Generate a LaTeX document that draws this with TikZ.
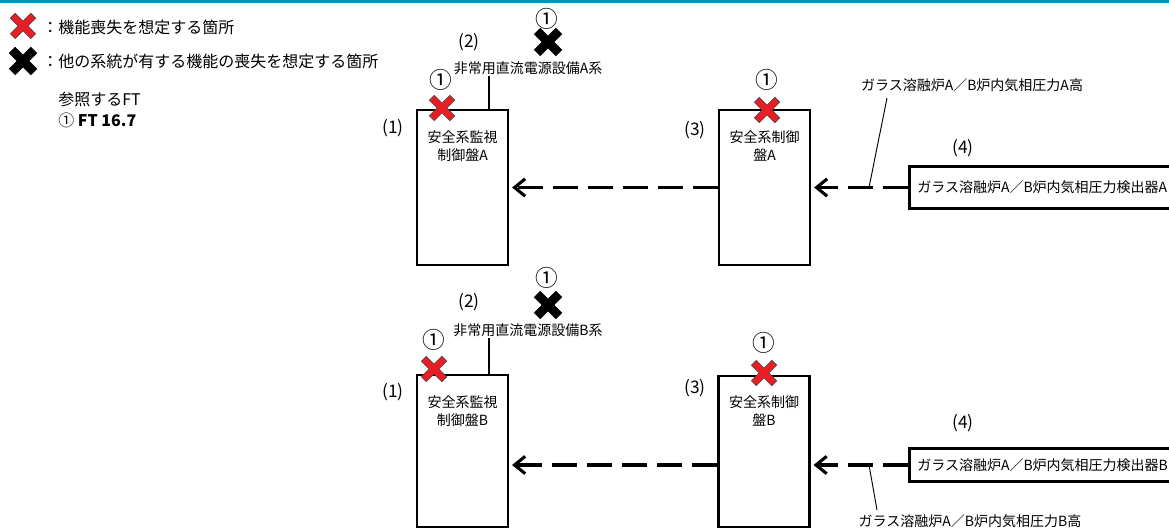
\documentclass[tikz,border=0pt]{standalone}
\usepackage{fontspec}
\setmainfont{Noto Sans CJK JP}
\usetikzlibrary{arrows.meta}
\definecolor{topbar}{RGB}{0,148,194}
\definecolor{xred}{RGB}{236,28,36}
\definecolor{xedge}{RGB}{90,70,70}
\tikzset{
    panel/.style={draw, line width=2.1pt, minimum width=68.25pt, inner sep=0pt},
    sensor/.style={draw, line width=1.9pt, anchor=west, inner xsep=6pt, inner ysep=0pt, font=\fontsize{10.5}{13}\selectfont},
    txt/.style={font=\fontsize{10.5}{13.5}\selectfont, align=center, inner sep=1pt},
    num/.style={font=\fontsize{13}{15}\selectfont, inner sep=1pt},
    circ/.style={font=\fontsize{17}{19}\selectfont, inner sep=0pt},
    legend/.style={anchor=west, inner sep=0pt, font=\fontsize{12}{14}\selectfont},
    sig/.style={line width=2.3pt, dash pattern=on 18.75pt off 7.5pt, shorten >=2pt, -{Straight Barb[length=8pt,width=13pt]}},
    feed/.style={line width=2pt},
    lead/.style={line width=0.7pt},
    pics/lossx/.style={code={
        \draw[line width=5.6pt, xedge] (-10.5,-10.5) -- (10.5,10.5) (-10.5,10.5) -- (10.5,-10.5);
        \draw[line width=4.4pt, xred] (-9.8,-9.8) -- (9.8,9.8) (-9.8,9.8) -- (9.8,-9.8);
    }},
    pics/otherx/.style={code={
        \draw[line width=6.8pt] (-11,-11) -- (11,11) (-11,11) -- (11,-11);
    }},
}
\begin{document}
\begin{tikzpicture}[x=0.75pt, y=-0.75pt]
    \useasboundingbox (0,0) rectangle (1169,528);
    \clip (0,0) rectangle (1169,528);
    \fill[topbar] (0,0) rectangle (1169,3);

    % legend
    \pic at (23,26) {lossx};
    \node[legend] (lg1) at (42,27) {：機能喪失を想定する箇所};
    \pic at (23,61) {otherx};
    \node[legend] (lg2) at (42,61) {：他の系統が有する機能の喪失を想定する箇所};
    \node[legend] (ref1) at (58,99) {参照するFT};
    \node[legend] (ref2) at (58,120) {① \textbf{FT 16.7}};

    % A
    \node[panel, minimum height=116.25pt] (m1a) at (462.5,187.5) {};
    \node[panel, minimum height=116.25pt] (m3a) at (764.5,187.5) {};
    \node[sensor, minimum height=31.5pt] (d4a) at (908,187.5) {ガラス溶融炉A／B炉内気相圧力検出器A};
    \node[txt] (t1a) at (462.5,146) {安全系監視\\制御盤A};
    \node[txt] (t3a) at (764.5,146) {安全系制御\\盤A};
    \node[num] (n1a) at (393,128) {(1)};
    \node[num] (n2a) at (469,42) {(2)};
    \node[num] (n3a) at (695,130) {(3)};
    \node[num] (n4a) at (963,148) {(4)};
    \node[txt] (pa) at (528,68) {非常用直流電源設備A系};
    \coordinate (fa) at (489,110);
    \draw[feed] (pa.south -| fa) -- (fa);
    \draw[sig] (m3a.west) -- (m1a.east);
    \draw[sig] (d4a.west) -- (m3a.east);
    \node[txt] (siga) at (972,85) {ガラス溶融炉A／B炉内気相圧力A高};
    \coordinate (ka1) at (887,98);
    \coordinate (ka2) at (869,187.5);
    \draw[lead] (ka1) -- (ka2);
    \pic at (442,108) {lossx};
    \pic at (548,42) {otherx};
    \pic at (767,110) {lossx};
    \node[circ] (c1a) at (441,80) {①};
    \node[circ] (c2a) at (547,19) {①};
    \node[circ] (c3a) at (767,80) {①};

    % B
    \node[panel, minimum height=114pt] (m1b) at (462.5,451) {};
    \node[panel, minimum height=113.25pt] (m3b) at (764,451.5) {};
    \node[sensor, minimum height=24.75pt] (d4b) at (908,465) {ガラス溶融炉A／B炉内気相圧力検出器B};
    \node[txt] (t1b) at (462.5,411) {安全系監視\\制御盤B};
    \node[txt] (t3b) at (764,411) {安全系制御\\盤B};
    \node[num] (n1b) at (393,392) {(1)};
    \node[num] (n2b) at (469,302) {(2)};
    \node[num] (n3b) at (695,388) {(3)};
    \node[num] (n4b) at (963,423) {(4)};
    \node[txt] (pb) at (528,330) {非常用直流電源設備B系};
    \coordinate (fb) at (489,375);
    \draw[feed] (pb.south -| fb) -- (fb);
    \draw[sig] (m3b.west |- d4b.west) -- (m1b.east |- d4b.west);
    \draw[sig] (d4b.west) -- (m3b.east |- d4b.west);
    \node[txt] (sigb) at (970,521) {ガラス溶融炉A／B炉内気相圧力B高};
    \coordinate (kb1) at (869,465);
    \coordinate (kb2) at (877,510);
    \draw[lead] (kb1) -- (kb2);
    \pic at (434,369) {lossx};
    \pic at (548,305) {otherx};
    \pic at (764,373) {lossx};
    \node[circ] (c1b) at (434,340) {①};
    \node[circ] (c2b) at (547,278) {①};
    \node[circ] (c3b) at (764,343) {①};
\end{tikzpicture}
\end{document}
